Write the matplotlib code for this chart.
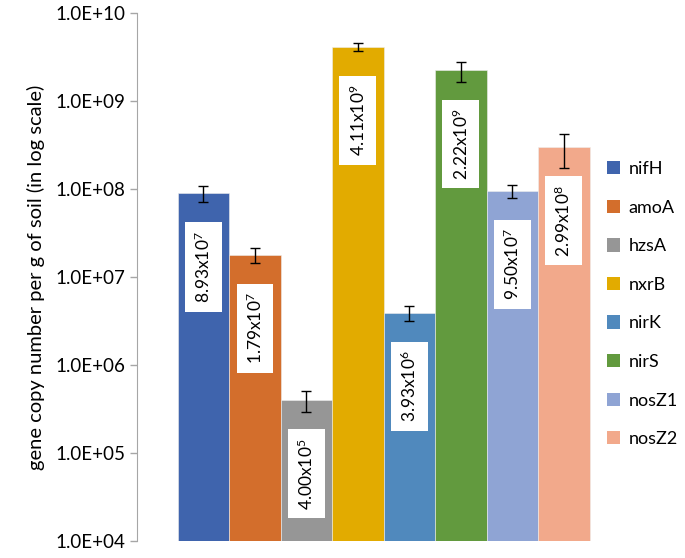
import matplotlib.pyplot as plt
from matplotlib.ticker import FuncFormatter, LogLocator, NullLocator
from matplotlib.patches import Patch

plt.rcParams["font.family"] = ["Lato", "DejaVu Sans"]
plt.rcParams["mathtext.fontset"] = "custom"
plt.rcParams["mathtext.rm"] = "Lato"
plt.rcParams["mathtext.it"] = "Lato"

# Gene abundances (copies per g soil)
genes = ["nifH", "amoA", "hzsA", "nxrB", "nirK", "nirS", "nosZ1", "nosZ2"]
values = [8.93e7, 1.79e7, 4.00e5, 4.11e9, 3.93e6, 2.22e9, 9.50e7, 2.99e8]
errors = [1.9e7, 3.3e6, 1.1e5, 4.5e8, 7.8e5, 5.8e8, 1.5e7, 1.25e8]
mantissa = ["8.93", "1.79", "4.00", "4.11", "3.93", "2.22", "9.50", "2.99"]
exponent = [7, 7, 5, 9, 6, 9, 7, 8]
colors = ["#3F64AD", "#D36E2C", "#969696", "#E2AB00",
          "#5089BD", "#629A3E", "#8FA4D4", "#F2A98B"]

fig = plt.figure(figsize=(6.85, 5.58), dpi=100)
ax = fig.add_axes([0.2, 0.03, 0.72, 0.947])

x = list(range(len(genes)))
ax.bar(x, values, width=1.0, color=colors, edgecolor="#eeeeee", linewidth=0.4,
       yerr=errors, error_kw=dict(ecolor="black", elinewidth=1.0, capsize=3.5, capthick=1.0),
       zorder=2)

# value labels in white boxes
for i in x:
    ax.annotate(mantissa[i] + "x10$^{%d}$" % exponent[i], xy=(i, values[i]),
                xytext=(0, -53), textcoords="offset points",
                rotation=90, ha="center", va="center", fontsize=12.5,
                bbox=dict(boxstyle="square,pad=0.5", facecolor="white",
                          edgecolor="none"),
                zorder=3)

ax.set_yscale("log")
ax.set_ylim(1e4, 1e10)
ax.set_xlim(-1.29, 7.5 + 0.79)
ax.yaxis.set_major_locator(LogLocator(base=10, numticks=10))
ax.yaxis.set_minor_locator(NullLocator())
ax.yaxis.set_major_formatter(FuncFormatter(lambda v, p: f"{v:.1E}"))
ax.set_xticks([])

for s in ["top", "right", "bottom"]:
    ax.spines[s].set_visible(False)
ax.spines["left"].set_color("#a6a6a6")
ax.tick_params(axis="y", colors="#a6a6a6", labelcolor="black", labelsize=13.5,
               length=5, width=1)

ax.set_ylabel("gene copy number per g of soil (in log scale)", fontsize=14.5,
              labelpad=7)

handles = [Patch(facecolor=c, edgecolor="none") for c in colors]
fig.legend(handles, genes, loc="center left", bbox_to_anchor=(0.862, 0.455),
           frameon=False, fontsize=13, handlelength=0.75, handleheight=0.75,
           handletextpad=0.45, labelspacing=1.25)

fig.savefig("out.png", dpi=100)
